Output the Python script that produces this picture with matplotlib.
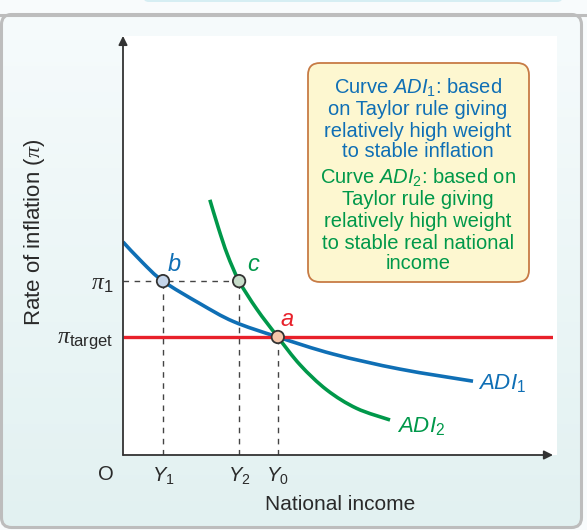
import numpy as np
import matplotlib.pyplot as plt
from matplotlib.patches import FancyBboxPatch, Rectangle, PathPatch
from matplotlib.path import Path
from matplotlib.colors import LinearSegmentedColormap

plt.rcParams['font.family'] = ['Liberation Sans', 'DejaVu Sans']
plt.rcParams['mathtext.fontset'] = 'custom'
plt.rcParams['mathtext.rm'] = 'Liberation Sans'
plt.rcParams['mathtext.it'] = 'Liberation Sans:italic'
plt.rcParams['mathtext.bf'] = 'Liberation Serif:italic'   # used for the pi glyph

# --- Data (both axes in 0-100 units) ---
adi1_income = [0, 4.5, 9.3, 17.9, 25.7, 36.0, 48.9, 64.4, 81.4]
adi1_inflation = [51.1, 46.2, 41.7, 36.3, 32.0, 28.3, 24.2, 20.6, 17.7]
adi2_income = [20.2, 22.2, 24.3, 27.0, 31.1, 36.0, 41.2, 47.4, 54.3, 62.1]
adi2_inflation = [61.2, 54.4, 48.0, 41.7, 35.0, 28.3, 21.6, 15.6, 11.2, 8.4]

pi_target = 28.3
pi_1 = 41.7
point_names = ['b', 'c', 'a']
point_income = [9.3, 27.0, 36.0]
point_inflation = [pi_1, pi_1, pi_target]

income_ticks = [9.3, 27.0, 36.0]
income_labels = [r'$Y_1$', r'$Y_2$', r'$Y_0$']
inflation_ticks = [pi_target, pi_1]
inflation_labels = [r'$\mathbf{\pi}_{\mathrm{target}}$', r'$\mathbf{\pi}_1$']

blue_lines = [r'Curve $\mathit{ADI}_1$: based', 'on Taylor rule giving',
              'relatively high weight', 'to stable inflation']
green_lines = [r'Curve $\mathit{ADI}_2$: based on', 'Taylor rule giving',
               'relatively high weight', 'to stable real national', 'income']

# --- Colours ---
BLUE = '#0f6fb5'
GREEN = '#00984a'
RED = '#e8202a'
DARK = '#2a2a2a'
point_fill = ['#c5d5ea', '#c7dcc9', '#f6c6aa']
point_text = [BLUE, GREEN, RED]


def smooth_path(xs, ys):
    # bezier through the read points (catmull-rom style handles)
    pts = np.column_stack([xs, ys]).astype(float)
    verts = [pts[0]]
    codes = [Path.MOVETO]
    for i in range(len(pts) - 1):
        p0 = pts[i - 1] if i > 0 else pts[i]
        p1, p2 = pts[i], pts[i + 1]
        p3 = pts[i + 2] if i + 2 < len(pts) else pts[i + 1]
        verts += [p1 + (p2 - p0) / 6, p2 - (p3 - p1) / 6, p2]
        codes += [Path.CURVE4] * 3
    return Path(verts, codes)


fig = plt.figure(figsize=(5.87, 5.30), dpi=100)

# --- Background panel, pixel coordinates ---
bg = fig.add_axes([0, 0, 1, 1])
bg.set_xlim(0, 587)
bg.set_ylim(530, 0)
bg.axis('off')
bg.add_patch(Rectangle((0, 0), 587, 530, fc='#f8fbfc', ec='none'))
bg.add_patch(FancyBboxPatch((143, -12), 420, 14, boxstyle='round,pad=0,rounding_size=6',
                            fc='#d6eef3', ec='none'))
panel = FancyBboxPatch((1.5, 14.5), 580, 513, boxstyle='round,pad=0,rounding_size=10',
                       fc='none', ec='#bdbdbd', lw=2.2, zorder=3)
grad = np.linspace(0, 1, 256).reshape(-1, 1)
im = bg.imshow(grad, extent=(1.5, 581.5, 527.5, 14.5), aspect='auto',
               cmap=LinearSegmentedColormap.from_list('bgc', ['#f6fbfc', '#e2f1f1']),
               zorder=1)
bg.add_patch(panel)
im.set_clip_path(panel)
bg.plot([0, 587], [14.5, 14.5], color='#bdbdbd', lw=2.2, zorder=4)
bg.add_patch(Rectangle((123, 36), 434, 419, fc='white', ec='none', zorder=2))

# text box
bg.add_patch(FancyBboxPatch((308, 63), 221, 219, boxstyle='round,pad=0,rounding_size=12',
                            fc='#fdf7d0', ec='#c77b45', lw=1.3, zorder=5))
for line, yb in zip(blue_lines, [94, 115, 137, 157]):
    bg.text(418, yb, line, color=BLUE, fontsize=14.5, ha='center', va='baseline', zorder=6)
for line, yb in zip(green_lines, [184, 205, 227, 249, 269]):
    bg.text(418, yb, line, color=GREEN, fontsize=14.5, ha='center', va='baseline', zorder=6)

bg.text(106, 474, 'O', color=DARK, fontsize=14.5, ha='center', va='center')
bg.text(35, 232, r'Rate of inflation ($\mathbf{\pi}$)', color=DARK, fontsize=16,
        rotation=90, ha='center', va='center')
bg.text(340, 505, 'National income', color=DARK, fontsize=15, ha='center', va='center')

# --- Diagram axes ---
ax = fig.add_axes([123 / 587, 75 / 530, 430 / 587, 417 / 530])
ax.set_xlim(0, 100)
ax.set_ylim(0, 100)
ax.patch.set_alpha(0)
for s in ax.spines.values():
    s.set_visible(False)

ax.set_xticks(income_ticks, income_labels)
ax.set_yticks(inflation_ticks, inflation_labels)
ax.tick_params(length=0, labelsize=14.5, colors=DARK)
ax.tick_params(axis='x', pad=8)
ax.tick_params(axis='y', pad=7, labelsize=17)

arrow = dict(arrowstyle='-|>', color='#333333', lw=1.3, mutation_scale=13, shrinkA=0, shrinkB=0)
ax.annotate('', xy=(0, 100.5), xytext=(0, 0), arrowprops=arrow, annotation_clip=False)
ax.annotate('', xy=(100, 0), xytext=(0, 0), arrowprops=arrow, annotation_clip=False)

# dashed guides
dash = dict(color='#444444', lw=1, ls=(0, (4, 4)))
ax.plot([0, point_income[1]], [pi_1, pi_1], **dash)
for xi, yi in zip(point_income, point_inflation):
    ax.plot([xi, xi], [0, yi], **dash)

ax.plot([0, 100], [pi_target, pi_target], color=RED, lw=2.4, solid_capstyle='butt')
ax.add_patch(PathPatch(smooth_path(adi1_income, adi1_inflation), fill=False,
                       ec=BLUE, lw=2.6, capstyle='butt'))
ax.add_patch(PathPatch(smooth_path(adi2_income, adi2_inflation), fill=False,
                       ec=GREEN, lw=2.6, capstyle='butt'))

ax.scatter(point_income, point_inflation, s=80, c=point_fill, edgecolors='#333333',
           linewidths=1.3, zorder=5)
for name, xi, yi, col, dx, dy in zip(point_names, point_income, point_inflation, point_text,
                                     [1.0, 2.0, 0.6], [4.0, 4.0, 4.2]):
    ax.text(xi + dx, yi + dy, name, color=col, fontsize=17, style='italic',
            ha='left', va='center')

ax.text(82.5, adi1_inflation[-1] - 0.5, r'$\mathit{ADI}_1$', color=BLUE, fontsize=16,
        ha='left', va='center')
ax.text(63.8, adi2_inflation[-1] - 1.6, r'$\mathit{ADI}_2$', color=GREEN, fontsize=16,
        ha='left', va='center')

fig.savefig('out.png', dpi=100)
